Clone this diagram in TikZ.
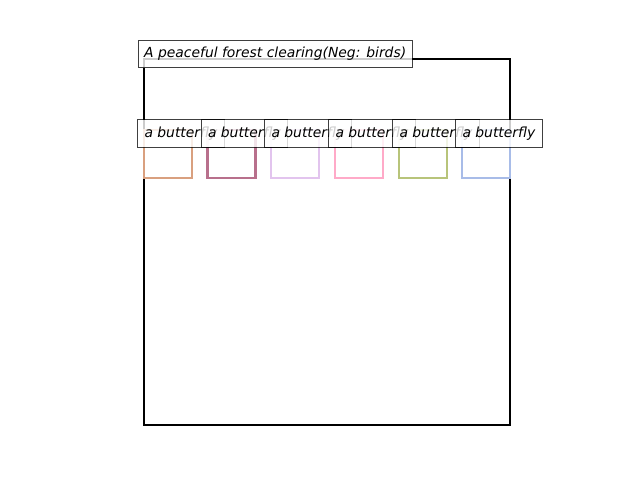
\documentclass[tikz,border=0pt]{standalone}
\usepackage{fontspec}
\setmainfont{DejaVu Sans}
\definecolor{cA}{HTML}{D9A07F}
\definecolor{cB}{HTML}{B8708C}
\definecolor{cC}{HTML}{E2C4EE}
\definecolor{cD}{HTML}{FFAAC8}
\definecolor{cE}{HTML}{B8C47A}
\definecolor{cF}{HTML}{A8BCE8}
\begin{document}
\begin{tikzpicture}[x=0.72pt,y=-0.72pt,
  bigsq/.style={draw=black,line width=1.5pt},
  smallsq/.style={line width=1.7pt},
  lbl/.style={anchor=west,draw=black,draw opacity=0.75,fill=white,fill opacity=0.8,text opacity=1,
    line width=0.72pt,inner xsep=5.04pt,inner ysep=0pt,minimum height=19.8pt,
    font=\fontsize{10}{12}\selectfont\itshape}]
\useasboundingbox (0,0) rectangle (640,480);
\draw[bigsq] (144,59) rectangle (510,425);
\draw[smallsq,draw=cA] (144,130) rectangle (192,178);
\draw[smallsq,draw=cB] (207.5,130) rectangle (255.5,178);
\draw[smallsq,draw=cC] (271,130) rectangle (319,178);
\draw[smallsq,draw=cD] (335,130) rectangle (383,178);
\draw[smallsq,draw=cE] (399,130) rectangle (447,178);
\draw[smallsq,draw=cF] (462,130) rectangle (510,178);
\node[lbl,inner xsep=4.3pt,xshift=0.5pt] (title) at (137,54) {A peaceful forest clearing(Neg: birds)};
\node[lbl] (l1) at (137,133.5) {a butterfly};
\node[lbl] (l2) at (200.5,133.5) {a butterfly};
\node[lbl] (l3) at (264,133.5) {a butterfly};
\node[lbl] (l4) at (328,133.5) {a butterfly};
\node[lbl] (l5) at (392,133.5) {a butterfly};
\node[lbl] (l6) at (455,133.5) {a butterfly};
\end{tikzpicture}
\end{document}
